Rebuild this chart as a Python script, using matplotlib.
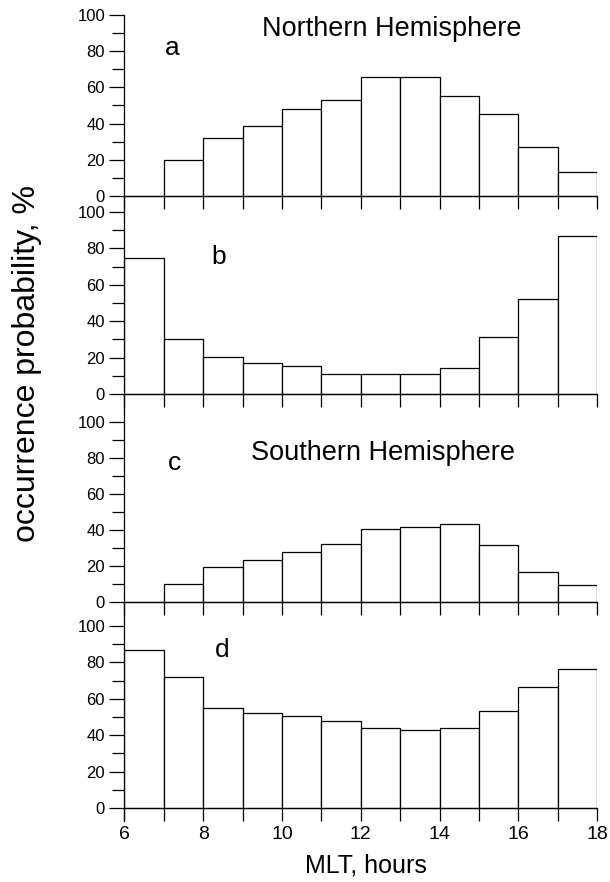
import matplotlib
matplotlib.use("Agg")
import matplotlib.pyplot as plt
from matplotlib.ticker import FixedLocator

plt.rcParams['font.family'] = ['Liberation Sans', 'DejaVu Sans']

# MLT bin starts (hours)
hours = [6, 7, 8, 9, 10, 11, 12, 13, 14, 15, 16, 17]

# occurrence probability, %
north_a = [0, 20, 32, 38.5, 48, 53, 66, 66, 55.5, 45.5, 27, 13.5]
north_b = [75, 30, 20.5, 17, 15.5, 11, 11, 11.2, 14.2, 31.3, 52, 87]
south_c = [0, 10, 19.5, 23.6, 28, 32, 40.5, 41.5, 43.5, 31.5, 16.5, 9.7]
south_d = [86.7, 72, 55, 52.2, 50.5, 47.8, 43.8, 43, 44, 53.5, 66.5, 76.2]

panels = [
    ("a", north_a, "Northern Hemisphere"),
    ("b", north_b, None),
    ("c", south_c, "Southern Hemisphere"),
    ("d", south_d, None),
]

# pixel layout: (y of 100 tick, y of 0 line)
rows = [(15, 196), (212, 394), (422, 602), (626, 808)]
W, H = 610, 882
x_left, x_right = 124.5, 597

fig = plt.figure(figsize=(W / 100, H / 100), dpi=100)

letter_pos = [(7.2, 82), (8.38, 75), (7.28, 77), (8.48, 87)]
title_pos = [(12.8, 92), None, (12.56, 83), None]

for i, (letter, vals, title) in enumerate(panels):
    top, zero = rows[i]
    bottom = rows[i + 1][0] if i < 3 else 822
    px_per_unit = (zero - top) / 100.0
    ymin = -(bottom - zero) / px_per_unit
    ax = fig.add_axes([x_left / W, 1 - bottom / H,
                       (x_right - x_left) / W, (bottom - top) / H])
    ax.bar(hours, vals, width=1, align='edge', facecolor='white',
           edgecolor='black', linewidth=0.9)
    ax.set_xlim(6, 18)
    ax.set_ylim(ymin, 100)

    ax.spines['top'].set_visible(False)
    ax.spines['right'].set_visible(False)
    ax.spines['bottom'].set_position(('data', 0))
    ax.spines['bottom'].set_linewidth(0.9)
    ax.spines['left'].set_linewidth(0.9)
    ax.spines['left'].set_bounds(ymin if i < 3 else -7, 100)

    ax.set_yticks([0, 20, 40, 60, 80, 100])
    ax.yaxis.set_minor_locator(FixedLocator([10, 30, 50, 70, 90]))
    ax.tick_params(axis='y', which='major', direction='out', length=11,
                   width=0.9, labelsize=12, pad=3)
    ax.tick_params(axis='y', which='minor', direction='out', length=9,
                   width=0.9)

    ax.set_xticks([6, 8, 10, 12, 14, 16, 18])
    ax.xaxis.set_minor_locator(FixedLocator([7, 9, 11, 13, 15, 17]))
    ax.tick_params(axis='x', which='both', direction='out', length=9,
                   width=0.9, labelsize=14, pad=4)
    if i < 3:
        ax.tick_params(axis='x', labelbottom=False)

    lx, ly = letter_pos[i]
    ax.text(lx, ly, letter, fontsize=19, ha='center', va='center')
    if title:
        tx, ty = title_pos[i]
        ax.text(tx, ty, title, fontsize=19.5, ha='center', va='center')

fig.text(366 / W, 1 - 866 / H, "MLT, hours", fontsize=18,
         ha='center', va='center')
fig.text(27 / W, 1 - 363 / H, "occurrence probability, %", fontsize=23,
         rotation=90, ha='center', va='center')

fig.savefig("out.png", dpi=100)
